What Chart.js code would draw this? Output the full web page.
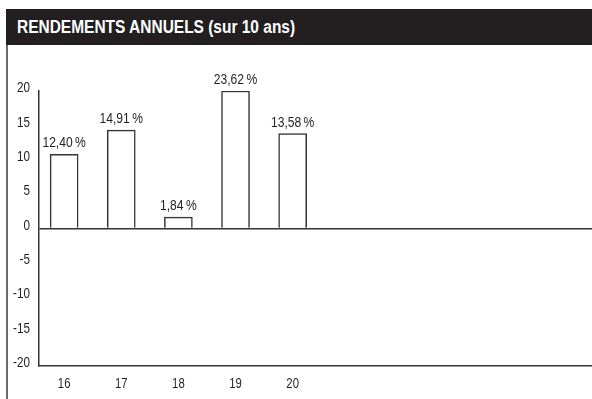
<!DOCTYPE html>
<html lang="fr">
<head>
<meta charset="utf-8">
<script src="https://cdn.jsdelivr.net/npm/chart.js@4/dist/chart.umd.min.js"></script>
<style>
    html, body { margin: 0; padding: 0; background: #fff; }
    #page { position: relative; width: 592px; height: 399px; overflow: hidden; }
    #titre {
        position: absolute; left: 6px; top: 9px; width: 586px; height: 36px;
        background: #231f20;
    }
    #titre span {
        position: absolute; left: 11px; top: 8px;
        color: #fff; white-space: nowrap;
        font-family: "Liberation Sans", Arial, sans-serif;
        font-weight: bold; font-size: 18px; line-height: 20px;
        transform: scaleX(0.86); transform-origin: left center;
    }
    #bord { position: absolute; left: 6px; top: 45px; width: 2px; height: 354px; background: #6b6b6b; }
    #zone { position: absolute; left: 0; top: 0; width: 592px; height: 399px; }
</style>
</head>
<body>
<div id="page">
    <div id="zone"><canvas></canvas></div>
    <div id="titre"><span>RENDEMENTS ANNUELS (sur 10 ans)</span></div>
    <div id="bord"></div>
</div>
<script>
const annees = [16, 17, 18, 19, 20];
// rendements affichés au-dessus des barres
const rendements = [12.40, 14.91, 1.84, 23.62, 13.58];
// hauteur des barres telle que dessinée (19 est coupée en haut de l'échelle)
const hauteurs = [10.8, 14.3, 1.65, 20, 13.8];
const graduations = [-20, -15, -10, -5, 0, 5, 10, 15, 20];

const police = '"Liberation Sans", Arial, sans-serif';
const encre = "#231f20";
const trait = "#333333";
const etroit = 0.78; // écrasement horizontal du texte (style "condensed")

const enPourcent = v => v.toFixed(2).replace(".", ",") + "\u2009%";

const canvas = document.querySelector("canvas");
const c2d = canvas.getContext("2d");
const fillOrig = c2d.fillText.bind(c2d);
c2d.fillText = function (t, x, y, w) {
    this.save();
    this.translate(x, y);
    this.scale(etroit, 1);
    if (w === undefined) fillOrig(t, 0, 0);
    else fillOrig(t, 0, 0, w / etroit);
    this.restore();
};

const etiquettes = {
    id: "etiquettes",
    afterDatasetsDraw(chart) {
        const ctx = chart.ctx;
        ctx.save();
        ctx.font = "15.5px " + police;
        ctx.fillStyle = encre;
        ctx.textAlign = "center";
        ctx.textBaseline = "alphabetic";
        chart.getDatasetMeta(0).data.forEach((barre, i) => {
            ctx.fillText(enPourcent(rendements[i]), barre.x, barre.y - 7);
        });
        ctx.restore();
    }
};

new Chart(canvas, {
    type: "bar",
    data: {
        datasets: [{
            data: annees.map((a, i) => ({ x: a, y: hauteurs[i] })),
            backgroundColor: "#ffffff",
            borderColor: trait,
            borderWidth: 1.5,
            barThickness: 28
        }]
    },
    plugins: [etiquettes],
    options: {
        responsive: true,
        maintainAspectRatio: false,
        animation: false,
        events: [],
        layout: { padding: { top: 91, right: 0, left: 0, bottom: 0 } },
        plugins: {
            legend: { display: false },
            tooltip: { enabled: false }
        },
        scales: {
            x: {
                type: "linear",
                min: 15.56,
                max: 25.24,
                offset: false,
                grid: { display: false, drawTicks: false, offset: false },
                border: { display: true, color: trait, width: 1.5 },
                afterBuildTicks: s => { s.ticks = annees.map(v => ({ value: v })); },
                afterFit: s => { s.height = 33; },
                ticks: {
                    color: encre,
                    font: { family: police, size: 14.5 },
                    padding: 9,
                    maxRotation: 0
                }
            },
            y: {
                min: -20,
                max: 20,
                afterBuildTicks: s => { s.ticks = graduations.map(v => ({ value: v })); },
                afterFit: s => { s.width = 39; },
                grid: {
                    drawTicks: false,
                    color: c => (c.tick && c.tick.value === 0 ? trait : "rgba(0,0,0,0)"),
                    lineWidth: 1.5
                },
                border: { display: true, color: trait, width: 1.5 },
                ticks: {
                    color: encre,
                    font: { family: police, size: 15 },
                    padding: 9,
                    labelOffset: -3
                }
            }
        }
    }
});
</script>
</body>
</html>
